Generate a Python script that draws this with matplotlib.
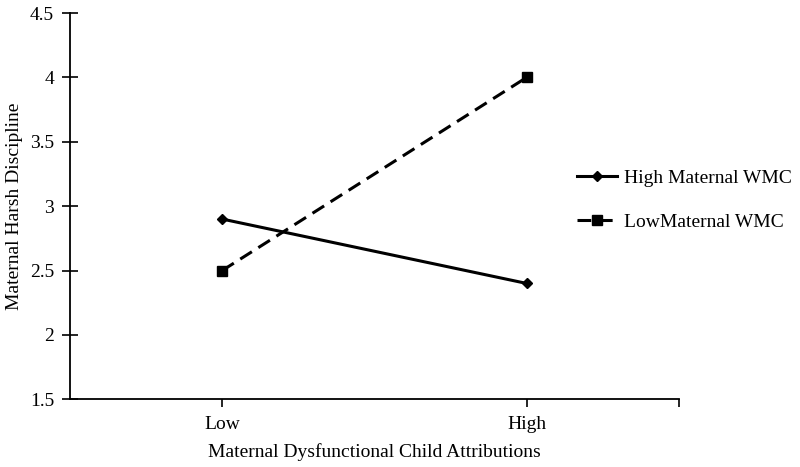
import matplotlib
matplotlib.use('Agg')
import matplotlib.pyplot as plt

plt.rcParams['font.family'] = ['Liberation Serif', 'DejaVu Serif']

categories = ['Low', 'High']
high_wmc = [2.9, 2.4]
low_wmc = [2.5, 4.0]
yticks = [1.5, 2, 2.5, 3, 3.5, 4, 4.5]
ylabels = ['1.5', '2', '2.5', '3', '3.5', '4', '4.5']

fig = plt.figure(figsize=(8, 4.67), dpi=100)
ax = fig.add_axes([0.0875, 0.145, 0.761, 0.827])

x = list(range(len(categories)))
ax.plot(x, high_wmc, color='black', lw=2.2, marker='D', ms=5.5,
        label='High Maternal WMC')
ax.plot(x, low_wmc, color='black', lw=2.2, ls=(0, (4.5, 2.5)), marker='s', ms=7,
        label='LowMaternal WMC')

ax.set_xlim(-0.5, 1.5)
ax.set_ylim(1.5, 4.5)
ax.set_xticks([0, 1, 1.5])
ax.set_xticklabels(categories + [''])
ax.set_yticks(yticks)
ax.set_yticklabels(ylabels)
ax.tick_params(axis='y', direction='inout', length=11, width=1.2, labelsize=14, pad=6)
ax.tick_params(axis='x', direction='out', length=6, width=1.2, labelsize=14, pad=6)
for s in ['top', 'right']:
    ax.spines[s].set_visible(False)
for s in ['left', 'bottom']:
    ax.spines[s].set_linewidth(1.3)

ax.set_xlabel('Maternal Dysfunctional Child Attributions', fontsize=14, labelpad=7)
ax.set_ylabel('Maternal Harsh Discipline', fontsize=14, labelpad=5)

fig.legend(loc='center left', bbox_to_anchor=(0.721, 0.572), frameon=False,
           fontsize=14, handlelength=2.05, labelspacing=1.35, handletextpad=0.4,
           borderpad=0, borderaxespad=0)

fig.savefig('out.png', dpi=100)
